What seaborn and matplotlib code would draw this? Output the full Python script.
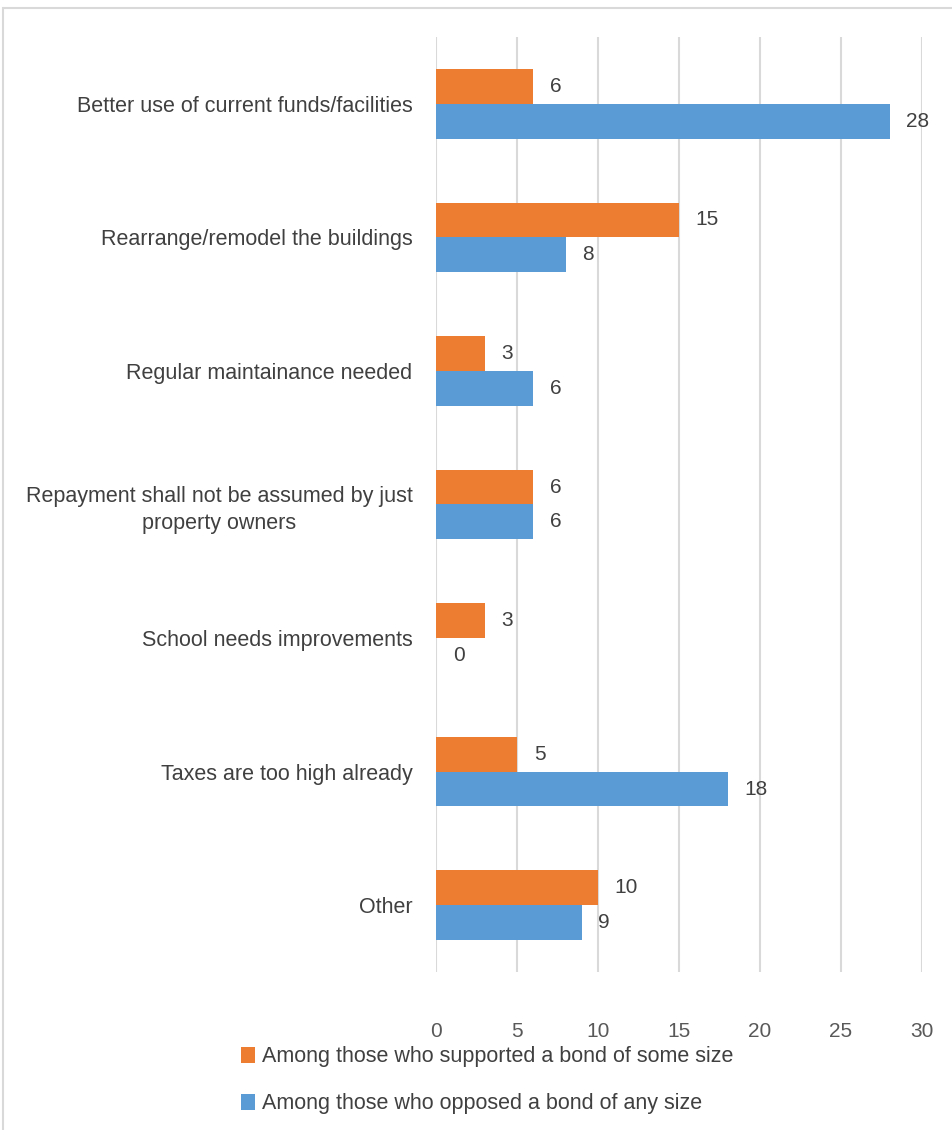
import matplotlib
matplotlib.use("Agg")
import matplotlib.pyplot as plt
import seaborn as sns
import pandas as pd
from matplotlib.patches import Rectangle, Patch

categories = [
    "Better use of current funds/facilities",
    "Rearrange/remodel the buildings",
    "Regular maintainance needed",
    "Repayment shall not be assumed by just\nproperty owners",
    "School needs improvements",
    "Taxes are too high already",
    "Other",
]
series_names = [
    "Among those who supported a bond of some size",
    "Among those who opposed a bond of any size",
]
supported = [6, 15, 3, 6, 3, 5, 10]
opposed = [28, 8, 6, 6, 0, 18, 9]
x_ticks = [0, 5, 10, 15, 20, 25, 30]

colors = ["#ED7D31", "#5B9BD5"]

df = pd.DataFrame({
    "category": categories * 2,
    "series": [series_names[0]] * len(categories) + [series_names[1]] * len(categories),
    "value": supported + opposed,
})

sns.set_style("white")
plt.rcParams["font.family"] = ["Liberation Sans", "DejaVu Sans"]

fig = plt.figure(figsize=(9.52, 11.3), dpi=100)
ax = fig.add_axes([436 / 952, 1 - 972 / 1130, (922 - 436) / 952, (972 - 37) / 1130])

sns.barplot(data=df, y="category", x="value", hue="series", order=categories,
            hue_order=series_names, palette=colors, width=0.52, orient="h",
            ax=ax, legend=False, saturation=1, linewidth=0)

for c in ax.containers:
    ax.bar_label(c, padding=12, fontsize=15, color="#404040")

ax.set_xlim(0, 30)
ax.set_xticks(x_ticks)
ax.set_xticklabels([str(t) for t in x_ticks])
ax.set_ylim(6.5, -0.5)
ax.grid(axis="x", color="#D9D9D9", linewidth=1.5)
ax.set_axisbelow(True)
for s in ax.spines.values():
    s.set_visible(False)
ax.set_xlabel("")
ax.set_ylabel("")
ax.tick_params(axis="x", length=0, pad=36, labelsize=15, labelcolor="#595959")
ax.tick_params(axis="y", length=0, pad=17, labelsize=15.5, labelcolor="#404040")
for lab in ax.get_yticklabels():
    lab.set_multialignment("center")
    lab.set_linespacing(1.35)

handles = [Patch(facecolor=colors[i], edgecolor="none", label=series_names[i]) for i in range(2)]
leg = fig.legend(handles=handles, loc="upper left", bbox_to_anchor=(222 / 952, 1 - 1027 / 1130),
                 frameon=False, fontsize=15.5, handlelength=0.65, handleheight=0.75,
                 handletextpad=0.3, labelspacing=1.2, labelcolor="#404040")

fig.patches.append(Rectangle((3 / 952, -0.05), 1.1, 1 - 8 / 1130 + 0.05, transform=fig.transFigure,
                             fill=False, edgecolor="#D9D9D9", linewidth=1.5))

fig.savefig("out.png", dpi=100)
